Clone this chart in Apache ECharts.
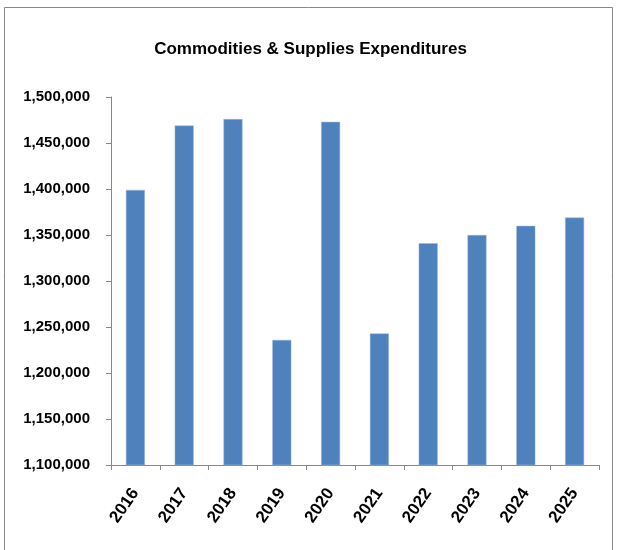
<!DOCTYPE html>
<html><head><meta charset="utf-8">
<script src="https://cdn.jsdelivr.net/npm/echarts@6/dist/echarts.min.js"></script>
<style>html,body{margin:0;padding:0;background:#fff}#c{width:621px;height:550px}</style>
</head><body><div id="c"></div>
<script>
const categories = ['2016','2017','2018','2019','2020','2021','2022','2023','2024','2025'];
const values = [1399000,1469000,1476000,1236000,1473000,1243000,1341000,1350000,1360000,1369000];
const titleText = 'Commodities & Supplies Expenditures';

const chart = echarts.init(document.getElementById('c'));
const font = '"Liberation Sans", Arial, sans-serif';
chart.setOption({
  animation: false,
  backgroundColor: '#fff',
  title: {text: titleText, left: 'center', top: 36,
    textStyle: {fontFamily: font, fontWeight: 'bold', fontSize: 17, color: '#000'}},
  graphic: [{type: 'rect', shape: {x: 4.5, y: 7.5, width: 608, height: 545},
    style: {fill: 'none', stroke: '#888', lineWidth: 1}, silent: true}],
  grid: {left: 111, right: 22, top: 97, bottom: 85},
  xAxis: {type: 'category', data: categories,
    axisLine: {lineStyle: {color: '#888'}},
    axisTick: {show: true, length: 5, lineStyle: {color: '#888'}},
    axisLabel: {rotate: 55, margin: 25, fontFamily: font, fontWeight: 'bold', fontSize: 17, color: '#000'}},
  yAxis: {type: 'value', min: 1100000, max: 1500000, interval: 50000,
    axisLine: {show: true, lineStyle: {color: '#888'}},
    axisTick: {show: true, length: 5, lineStyle: {color: '#888'}},
    splitLine: {show: false},
    axisLabel: {margin: 21, fontFamily: font, fontWeight: 'bold', fontSize: 15, color: '#000',
      formatter: v => v.toLocaleString('en-US')}},
  series: [{type: 'bar', data: values, barWidth: 19,
    itemStyle: {color: '#4f81bd', borderColor: '#9fb8da', borderWidth: 0.5}}]
});
</script></body></html>
